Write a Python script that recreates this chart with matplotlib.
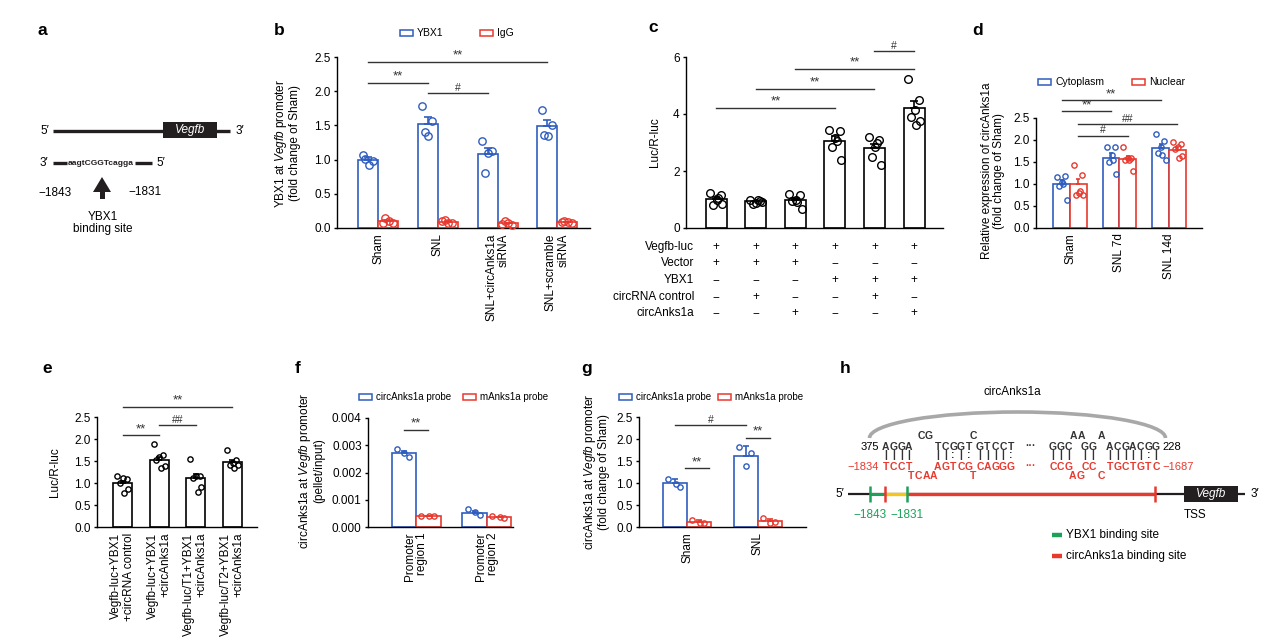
"""
Multi-panel figure: YBX1 / circAnks1a binding at the Vegfb promoter.
Panels a and h are schematic diagrams, b-g are bar charts with dots.
"""

import numpy as np
import matplotlib
matplotlib.use('Agg')
import matplotlib.pyplot as plt
from matplotlib import transforms
from matplotlib.patches import Rectangle, Arc, Polygon
from matplotlib.ticker import FormatStrFormatter

plt.rcParams['font.family'] = ['Liberation Sans', 'DejaVu Sans']
plt.rcParams['mathtext.fontset'] = 'custom'
plt.rcParams['mathtext.it'] = 'Liberation Sans:italic'
plt.rcParams['mathtext.rm'] = 'Liberation Sans'

W, H = 1267, 644
BLUE = '#2F5DBF'
RED = '#E8392F'
GREEN = '#1BA15A'
YELLOW = '#F5C518'
DARK = '#231F20'
FS = 8.5

# ---------------- data ----------------
# b: ChIP, YBX1 vs IgG
b_groups = ['Sham', 'SNL', 'SNL+circAnks1a\nsiRNA', 'SNL+scramble\nsiRNA']
b_ybx1_mean = [1.00, 1.52, 1.08, 1.49]
b_ybx1_sem = [0.04, 0.10, 0.09, 0.09]
b_ybx1_pts = [[1.07, 0.98, 0.92, 1.01], [1.79, 1.56, 1.34, 1.40],
              [1.27, 1.12, 1.09, 0.80], [1.73, 1.51, 1.35, 1.36]]
b_igg_mean = [0.10, 0.09, 0.07, 0.09]
b_igg_sem = [0.015, 0.01, 0.01, 0.005]
b_igg_pts = [[0.08, 0.07, 0.10, 0.14], [0.10, 0.07, 0.08, 0.11],
             [0.06, 0.05, 0.07, 0.10], [0.09, 0.08, 0.09, 0.10]]

# c: luciferase
c_mean = [1.02, 0.93, 0.98, 3.05, 2.80, 4.22]
c_sem = [0.07, 0.03, 0.07, 0.17, 0.15, 0.23]
c_pts = [[1.22, 1.15, 1.00, 0.82, 0.85, 1.05],
         [1.00, 0.95, 0.88, 0.85, 0.90, 1.00],
         [1.20, 1.15, 1.00, 0.95, 0.68, 0.90],
         [3.45, 3.40, 3.17, 2.84, 2.37, 3.05],
         [3.19, 3.10, 2.84, 2.49, 2.20, 3.00],
         [5.22, 4.50, 4.15, 3.90, 3.75, 3.62]]
c_rows = ['Vegfb-luc', 'Vector', 'YBX1', 'circRNA control', 'circAnks1a']
c_table = [['+', '+', '+', '+', '+', '+'],
           ['+', '+', '+', '\u2212', '\u2212', '\u2212'],
           ['\u2212', '\u2212', '\u2212', '+', '+', '+'],
           ['\u2212', '+', '\u2212', '\u2212', '+', '\u2212'],
           ['\u2212', '\u2212', '+', '\u2212', '\u2212', '+']]

# d: cytoplasm / nuclear expression
d_groups = ['Sham', 'SNL 7d', 'SNL 14d']
d_cyto_mean = [1.00, 1.60, 1.81]
d_cyto_sem = [0.08, 0.10, 0.10]
d_cyto_pts = [[1.17, 1.19, 1.05, 0.95, 0.63, 1.01],
              [1.85, 1.84, 1.65, 1.50, 1.23, 1.55],
              [2.14, 1.97, 1.85, 1.70, 1.55, 1.65]]
d_nuc_mean = [1.00, 1.57, 1.78]
d_nuc_sem = [0.12, 0.07, 0.06]
d_nuc_pts = [[1.43, 1.20, 0.80, 0.75, 0.75, 0.85],
             [1.85, 1.60, 1.60, 1.55, 1.30, 1.55],
             [1.95, 1.90, 1.85, 1.80, 1.63, 1.60]]

# e: mutant luciferase
e_groups = ['Vegfb-luc+YBX1\n+circRNA control', 'Vegfb-luc+YBX1\n+circAnks1a',
            'Vegfb-luc/T1+YBX1\n+circAnks1a', 'Vegfb-luc/T2+YBX1\n+circAnks1a']
e_mean = [1.00, 1.52, 1.11, 1.47]
e_sem = [0.05, 0.08, 0.10, 0.06]
e_pts = [[1.15, 1.09, 1.11, 1.00, 0.87, 0.77],
         [1.88, 1.63, 1.58, 1.53, 1.38, 1.33],
         [1.55, 1.17, 1.15, 1.12, 0.90, 0.80],
         [1.74, 1.52, 1.45, 1.42, 1.40, 1.35]]

# f: ChIRP pellet/input
f_groups = ['Promoter\nregion 1', 'Promoter\nregion 2']
f_circ_mean = [0.00270, 0.00052]
f_circ_sem = [0.00008, 0.00006]
f_circ_pts = [[0.00285, 0.00258, 0.00272], [0.00065, 0.00045, 0.00055]]
f_m_mean = [0.00040, 0.00036]
f_m_sem = [0.00001, 0.00002]
f_m_pts = [[0.00042, 0.00039, 0.00041], [0.00040, 0.00033, 0.00037]]

# g: ChIRP fold change
g_groups = ['Sham', 'SNL']
g_circ_mean = [1.00, 1.62]
g_circ_sem = [0.09, 0.22]
g_circ_pts = [[1.08, 0.92, 0.98], [1.82, 1.68, 1.38]]
g_m_mean = [0.12, 0.14]
g_m_sem = [0.04, 0.04]
g_m_pts = [[0.17, 0.10, 0.10], [0.20, 0.12, 0.10]]

# dot spread pattern inside a bar (fraction of bar width)
JIT = np.array([-0.28, 0.22, 0.02, -0.14, 0.30, 0.10])

fig = plt.figure(figsize=(W / 100, H / 100), dpi=100)
fig.patch.set_facecolor('white')

# overlay in pixel coords for diagrams, letters, legends
ov = fig.add_axes([0, 0, 1, 1])
ov.set_xlim(0, W)
ov.set_ylim(H, 0)
ov.axis('off')
ov.patch.set_visible(False)


def px_axes(x0, y_top, x1, y_bot):
    return fig.add_axes([x0 / W, 1 - y_bot / H, (x1 - x0) / W, (y_bot - y_top) / H])


def style(ax, ylim, yticks, fmt):
    ax.set_ylim(*ylim)
    ax.set_yticks(yticks)
    ax.yaxis.set_major_formatter(FormatStrFormatter(fmt))
    for s in ('top', 'right'):
        ax.spines[s].set_visible(False)
    for s in ('left', 'bottom'):
        ax.spines[s].set_linewidth(1.0)
    ax.tick_params(axis='y', length=2.5, width=1.0, labelsize=FS, pad=2)
    ax.tick_params(axis='x', length=0, labelsize=FS, pad=4)
    ax.patch.set_visible(False)


def bars(ax, xs, means, sems, pts, w, color, ms, cap):
    ax.bar(xs, means, width=w, facecolor='white', edgecolor=color,
           linewidth=1.2, zorder=2)
    ax.errorbar(xs, means, yerr=[np.zeros(len(sems)), sems], fmt='none',
                ecolor=color, elinewidth=1.2, capsize=cap, capthick=1.2, zorder=3)
    for x, p in zip(xs, pts):
        n = len(p)
        ax.plot(x + JIT[:n] * w, p, 'o', mfc='none', mec=color, ms=ms,
                mew=1.0, zorder=4, clip_on=False)


def bracket(ax, x1, x2, y, label):
    ax.plot([x1, x2], [y, y], color='#333333', lw=1.0, clip_on=False, zorder=5)
    fs = 9.5 if '*' in label else 7.5
    ax.annotate(label, xy=((x1 + x2) / 2, y), xytext=(0, 0.3),
                textcoords='offset points', ha='center', va='bottom',
                fontsize=fs, color='#333333', annotation_clip=False)


def xlabels(ax, xs, labels):
    ax.set_xticks(xs)
    ax.set_xticklabels(labels, rotation=90, ha='center', va='top',
                       multialignment='right', linespacing=1.05)


def ylab(x, y, s):
    ov.text(x, y, s, rotation=90, ha='center', va='center', fontsize=FS,
            multialignment='center', linespacing=1.1)


def legend_box(x, y, color, label, fs=7.5):
    ov.add_patch(Rectangle((x, y - 3), 13, 6, facecolor='white',
                           edgecolor=color, lw=1.1))
    ov.text(x + 17, y, label, ha='left', va='center', fontsize=fs)


# ---------------- panel letters ----------------
for lab, (x, y) in {'a': (42, 35), 'b': (279, 35), 'c': (653, 32), 'd': (978, 35),
                    'e': (47, 373), 'f': (298, 373), 'g': (587, 373),
                    'h': (845, 373)}.items():
    ov.text(x, y, lab, fontsize=12.5, weight='bold', ha='center', va='baseline')

# ---------------- a: schematic ----------------
ov.text(40, 131, '5\u2032', ha='left', va='center', fontsize=FS)
ov.plot([53, 230], [131, 131], color=DARK, lw=2.4, solid_capstyle='butt')
ov.add_patch(Rectangle((163, 122), 54, 16, facecolor=DARK, edgecolor='none', zorder=3))
ov.text(190, 130, 'Vegfb', style='italic', color='white', ha='center',
        va='center', fontsize=FS, zorder=4)
ov.text(236, 131, '3\u2032', ha='left', va='center', fontsize=FS)
ov.text(40, 163, '3\u2032', ha='left', va='center', fontsize=FS)
ov.plot([53, 67], [163, 163], color=DARK, lw=2.4, solid_capstyle='butt')
ov.text(101, 163, 'aagtCGGTcagga', ha='center', va='center', fontsize=6,
        weight='bold', color=DARK)
ov.plot([135, 152], [163, 163], color=DARK, lw=2.4, solid_capstyle='butt')
ov.text(156, 163, '5\u2032', ha='left', va='center', fontsize=FS)
ov.add_patch(Polygon([(93, 192), (111, 192), (102, 177)], closed=True,
                     facecolor=DARK, edgecolor='none'))
ov.add_patch(Rectangle((99.5, 191), 5, 8, facecolor=DARK, edgecolor='none'))
ov.text(55, 193, '\u22121843', ha='center', va='center', fontsize=FS)
ov.text(145, 192, '\u22121831', ha='center', va='center', fontsize=FS)
ov.text(103, 223, 'YBX1\nbinding site', ha='center', va='center',
        fontsize=FS, linespacing=1.1)

# ---------------- b ----------------
axb = px_axes(337, 57, 590, 228)
wb = 0.335
gb = np.arange(len(b_groups))
bars(axb, gb - wb / 2, b_ybx1_mean, b_ybx1_sem, b_ybx1_pts, wb, BLUE, 5.3, 2.6)
bars(axb, gb + wb / 2, b_igg_mean, b_igg_sem, b_igg_pts, wb, RED, 5.3, 2.6)
axb.set_xlim(-0.69, 3.55)
style(axb, (0, 2.5), np.arange(0, 2.51, 0.5), '%.1f')
xlabels(axb, gb, b_groups)
bracket(axb, gb[0] - wb / 2, gb[3] - wb / 2, 2.43, '**')
bracket(axb, gb[0] - wb / 2, gb[1] - wb / 2, 2.12, '**')
bracket(axb, gb[1] - wb / 2, gb[2] - wb / 2, 1.97, '#')
ylab(287, 143, 'YBX1 at $\\it{Vegfb}$ promoter\n(fold change of Sham)')
legend_box(400, 33, BLUE, 'YBX1')
legend_box(480, 33, RED, 'IgG')

# ---------------- c ----------------
axc = px_axes(686, 57, 943, 228)
wc = 0.53
gc = np.arange(len(c_mean))
bars(axc, gc, c_mean, c_sem, c_pts, wc, 'black', 5.5, 3.2)
axc.set_xlim(-0.76, 5.73)
style(axc, (0, 6), [0, 2, 4, 6], '%d')
axc.set_xticks([])
bracket(axc, gc[0], gc[3], 4.22, '**')
bracket(axc, gc[1], gc[4], 4.89, '**')
bracket(axc, gc[2], gc[5], 5.59, '**')
bracket(axc, gc[4], gc[5], 6.20, '#')
ylab(655, 142, 'Luc/R-luc')
tr = transforms.blended_transform_factory(axc.transData, ov.transData)
row_y = [247, 263, 280, 297, 313]
for r, (name, vals) in enumerate(zip(c_rows, c_table)):
    ov.text(694, row_y[r], name, ha='right', va='center', fontsize=FS)
    for i, v in enumerate(vals):
        axc.text(gc[i], row_y[r], v, transform=tr, ha='center', va='center',
                 fontsize=FS, clip_on=False)

# ---------------- d ----------------
axd = px_axes(1036, 118, 1202, 228)
wd = 0.337
gd = np.arange(len(d_groups))
bars(axd, gd - wd / 2, d_cyto_mean, d_cyto_sem, d_cyto_pts, wd, BLUE, 3.8, 1.6)
bars(axd, gd + wd / 2, d_nuc_mean, d_nuc_sem, d_nuc_pts, wd, RED, 3.8, 1.6)
axd.set_xlim(-0.69, 2.67)
style(axd, (0, 2.5), np.arange(0, 2.51, 0.5), '%.1f')
xlabels(axd, gd, d_groups)
bracket(axd, gd[0] - wd / 2, gd[2] - wd / 2, 2.90, '**')
bracket(axd, gd[0] - wd / 2, gd[1] - wd / 2, 2.65, '**')
bracket(axd, gd[0] + wd / 2, gd[2] + wd / 2, 2.36, '##')
bracket(axd, gd[0] + wd / 2, gd[1] + wd / 2, 2.10, '#')
ylab(993, 171, 'Relative expression of circAnks1a\n(fold change of Sham)')
legend_box(1038, 82, BLUE, 'Cytoplasm')
legend_box(1132, 82, RED, 'Nuclear')

# ---------------- e ----------------
axe = px_axes(97, 417, 257, 527)
we = 0.52
ge = np.arange(len(e_groups))
bars(axe, ge, e_mean, e_sem, e_pts, we, 'black', 3.8, 2.2)
axe.set_xlim(-0.7, 3.68)
style(axe, (0, 2.5), np.arange(0, 2.51, 0.5), '%.1f')
xlabels(axe, ge, e_groups)
bracket(axe, ge[0], ge[3], 2.73, '**')
bracket(axe, ge[1], ge[2], 2.31, '##')
bracket(axe, ge[0], ge[1], 2.08, '**')
ylab(55, 472, 'Luc/R-luc')

# ---------------- f ----------------
axf = px_axes(368, 418, 513, 527)
wf = 0.345
gf = np.arange(len(f_groups))
bars(axf, gf - wf / 2, f_circ_mean, f_circ_sem, f_circ_pts, wf, BLUE, 3.8, 2.0)
bars(axf, gf + wf / 2, f_m_mean, f_m_sem, f_m_pts, wf, RED, 3.8, 2.0)
axf.set_xlim(-0.68, 1.37)
style(axf, (0, 0.004), np.arange(0, 0.00401, 0.001), '%.3f')
xlabels(axf, gf, f_groups)
bracket(axf, gf[0] - wf / 2, gf[0] + wf / 2, 0.00357, '**')
ylab(311, 471, 'circAnks1a at $\\it{Vegfb}$ promoter\n(pellet/input)')
legend_box(359, 397, BLUE, 'circAnks1a probe', 7)
legend_box(463, 397, RED, 'mAnks1a probe', 7)

# ---------------- g ----------------
axg = px_axes(639, 417, 806, 527)
wg = 0.34
gg = np.arange(len(g_groups))
bars(axg, gg - wg / 2, g_circ_mean, g_circ_sem, g_circ_pts, wg, BLUE, 3.8, 2.0)
bars(axg, gg + wg / 2, g_m_mean, g_m_sem, g_m_pts, wg, RED, 3.8, 2.0)
axg.set_xlim(-0.68, 1.68)
style(axg, (0, 2.5), np.arange(0, 2.51, 0.5), '%.1f')
xlabels(axg, gg, g_groups)
bracket(axg, gg[0] - wg / 2, gg[1] - wg / 2, 2.31, '#')
bracket(axg, gg[0] - wg / 2 + 0.14, gg[0] + wg / 2 + 0.14, 1.33, '**')
bracket(axg, gg[1] - wg / 2, gg[1] + wg / 2, 2.03, '**')
ylab(596, 472, 'circAnks1a at $\\it{Vegfb}$ promoter\n(fold change of Sham)')
legend_box(619, 397, BLUE, 'circAnks1a probe', 7)
legend_box(718, 397, RED, 'mAnks1a probe', 7)

# ---------------- h: base-pairing diagram ----------------
PITCH = 7.7
SEQ_FS = 7.5


def seq(x0, y, s, color):
    for i, ch in enumerate(s):
        ov.text(x0 + (i + 0.5) * PITCH, y, ch, ha='center', va='center',
                fontsize=SEQ_FS, weight='bold', color=color)


ov.text(1012, 392, 'circAnks1a', ha='center', va='center', fontsize=FS)
ov.add_patch(Arc((1017.5, 438), 296, 52, theta1=180, theta2=360,
                 color='#A8A8A8', lw=2.6))

top_blocks = [(882, 'AGGA', 'TCCT', '||||'), (934, 'TCGGT', 'AGTCG', '||:|:'),
              (976, 'GTCCT', 'CAGGG', '||||:'), (1049, 'GGC', 'CCG', '|||'),
              (1081, 'GG', 'CC', '||'), (1106, 'ACGACGG', 'TGCTGTC', '|||||:|')]
for x0, s_top, s_bot, s_pair in top_blocks:
    seq(x0, 447, s_top, '#333333')
    seq(x0, 455, s_pair, '#333333')
    seq(x0, 467, s_bot, RED)
for x0, s in [(917, 'CG'), (969.5, 'C'), (1070, 'AA'), (1098, 'A')]:
    seq(x0, 436, s, '#333333')
for x0, s in [(907, 'TCAA'), (969, 'T'), (1069, 'AG'), (1097.5, 'C')]:
    seq(x0, 476, s, RED)
ov.text(1031, 446, '\u00b7\u00b7\u00b7', ha='center', va='center', fontsize=SEQ_FS,
        weight='bold', color='#333333')
ov.text(1031, 466, '\u00b7\u00b7\u00b7', ha='center', va='center', fontsize=SEQ_FS,
        weight='bold', color=RED)
ov.text(879, 447, '375', ha='right', va='center', fontsize=8)
ov.text(1162, 447, '228', ha='left', va='center', fontsize=8)
ov.text(879, 467, '\u22121834', ha='right', va='center', fontsize=8, color=RED)
ov.text(1162, 467, '\u22121687', ha='left', va='center', fontsize=8, color=RED)

ov.text(835, 494, '5\u2032', ha='left', va='center', fontsize=FS)
ov.plot([848, 1245], [494, 494], color=DARK, lw=1.6, solid_capstyle='butt')
ov.plot([870, 885], [494, 494], color=GREEN, lw=2.2, solid_capstyle='butt')
ov.plot([885, 907], [494, 494], color=YELLOW, lw=2.4, solid_capstyle='butt')
ov.plot([907, 1155], [494, 494], color=RED, lw=2.4, solid_capstyle='butt')
for x, col in [(870, GREEN), (885, RED), (907, GREEN), (1155, RED)]:
    ov.plot([x, x], [486, 502], color=col, lw=1.8, solid_capstyle='butt')
ov.add_patch(Rectangle((1184, 486), 54, 16, facecolor=DARK, edgecolor='none', zorder=3))
ov.text(1211, 494, 'Vegfb', style='italic', color='white', ha='center',
        va='center', fontsize=FS, zorder=4)
ov.text(1251, 494, '3\u2032', ha='left', va='center', fontsize=FS)
ov.text(1195, 515, 'TSS', ha='center', va='center', fontsize=FS)
ov.text(870, 515, '\u22121843', ha='center', va='center', fontsize=FS, color=GREEN)
ov.text(907, 515, '\u22121831', ha='center', va='center', fontsize=FS, color=GREEN)
ov.plot([1052, 1062], [535, 535], color=GREEN, lw=3.2, solid_capstyle='butt')
ov.text(1066, 535, 'YBX1 binding site', ha='left', va='center', fontsize=FS)
ov.plot([1052, 1062], [556, 556], color=RED, lw=3.2, solid_capstyle='butt')
ov.text(1066, 556, 'circAnks1a binding site', ha='left', va='center', fontsize=FS)

fig.savefig('out.png', dpi=100, facecolor='white')
